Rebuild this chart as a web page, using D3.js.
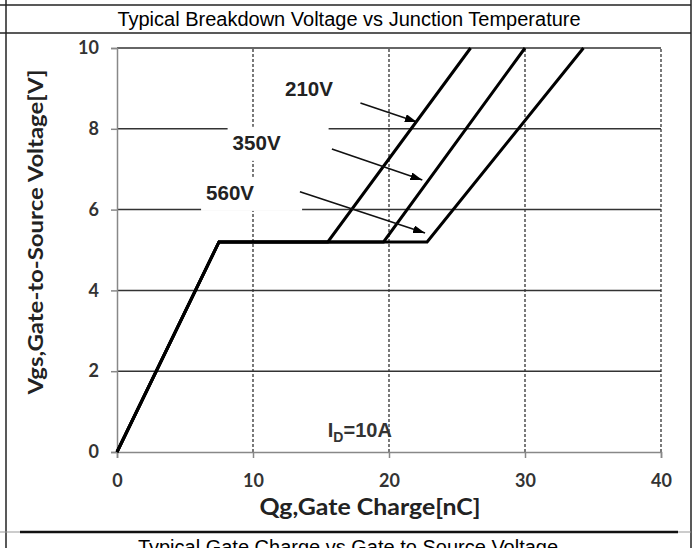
<!DOCTYPE html>
<html>
<head>
<meta charset="utf-8">
<script src="https://cdn.jsdelivr.net/npm/d3@7"></script>
<style>
  body { margin: 0; background: #fff; }
  svg { display: block; }
</style>
</head>
<body>
<script>
// chart values
const xTicks = [0, 10, 20, 30, 40];
const yTicks = [0, 2, 4, 6, 8, 10];
const seriesNames = ["210V", "350V", "560V"];
// every curve: rise to the Miller plateau, plateau, then rise to 10 V
const vgsPoints = [0, 5.2, 5.2, 10];
const qg210 = [0, 7.5, 15.5, 26.0];
const qg350 = [0, 7.5, 19.6, 30.0];
const qg560 = [0, 7.5, 22.8, 34.3];

const width = 696, height = 548;
const margin = {top: 48, right: 35, bottom: 96, left: 117};

const svg = d3.select("body")
  .append("svg")
  .attr("width", width)
  .attr("height", height);

// table frame around the figure
const frame = svg.append("g").attr("stroke", "#222").attr("stroke-width", 1.5);
frame.append("line").attr("x1", 0).attr("x2", 691).attr("y1", 5).attr("y2", 5);
frame.append("line").attr("x1", 0).attr("x2", 691).attr("y1", 33).attr("y2", 33);
frame.append("line").attr("x1", 6).attr("x2", 6).attr("y1", 0).attr("y2", height);
frame.append("line").attr("x1", 691).attr("x2", 691).attr("y1", 0).attr("y2", height);
svg.append("line").attr("x1", 0).attr("x2", 691).attr("y1", 532).attr("y2", 532)
  .attr("stroke", "#999").attr("stroke-width", 1);
svg.append("line").attr("x1", 20).attr("x2", 678).attr("y1", 532).attr("y2", 532)
  .attr("stroke", "#111").attr("stroke-width", 2.5);

svg.append("text")
  .attr("x", 349).attr("y", 26)
  .attr("text-anchor", "middle")
  .style("font-family", "'Liberation Sans', Arial, sans-serif")
  .style("font-size", "20px")
  .text("Typical Breakdown Voltage vs Junction Temperature");

// caption of the next figure, cut by the bottom edge as in the source page
svg.append("text")
  .attr("x", 348).attr("y", 554)
  .attr("text-anchor", "middle")
  .style("font-family", "'Liberation Sans', Arial, sans-serif")
  .style("font-size", "20px")
  .text("Typical Gate Charge vs Gate to Source Voltage");

const x = d3.scaleLinear()
  .domain([0, 40])
  .range([margin.left, width - margin.right]);

const y = d3.scaleLinear()
  .domain([0, 10])
  .range([height - margin.bottom, margin.top]);

// horizontal grid (solid) and vertical grid (dashed)
svg.append("g")
  .selectAll("line")
  .data(yTicks.filter(d => d > 0))
  .enter()
  .append("line")
  .attr("x1", x(0)).attr("x2", x(40))
  .attr("y1", d => y(d)).attr("y2", d => y(d))
  .attr("stroke", "#333")
  .attr("stroke-width", 1.5);

svg.append("g")
  .selectAll("line")
  .data(xTicks.filter(d => d > 0))
  .enter()
  .append("line")
  .attr("x1", d => x(d)).attr("x2", d => x(d))
  .attr("y1", y(0)).attr("y2", y(10))
  .attr("stroke", "#333")
  .attr("stroke-width", 1.3)
  .attr("stroke-dasharray", "3,2");

// axes
const fontTick = "Lato, 'Open Sans', sans-serif";
const yAxis = svg.append("g")
  .attr("transform", `translate(${x(0)},0)`)
  .call(d3.axisLeft(y).tickValues(yTicks).tickSize(6).tickPadding(12).tickFormat(d3.format("d")));
const xAxis = svg.append("g")
  .attr("transform", `translate(0,${y(0)})`)
  .call(d3.axisBottom(x).tickValues(xTicks).tickSize(6).tickPadding(16).tickFormat(d3.format("d")));

[xAxis, yAxis].forEach(ax => {
  ax.select(".domain").attr("stroke", "#888").attr("stroke-width", 1.5);
  ax.selectAll(".tick line").attr("stroke", "#888").attr("stroke-width", 1.5);
  ax.selectAll("text")
    .style("font-family", fontTick)
    .style("font-weight", "bold")
    .style("font-size", "18px")
    .attr("fill", "#333");
});

// axis titles
svg.append("text")
  .attr("x", 370).attr("y", 515)
  .attr("text-anchor", "middle")
  .attr("textLength", 221)
  .attr("lengthAdjust", "spacingAndGlyphs")
  .style("font-family", fontTick)
  .style("font-weight", "bold")
  .style("font-size", "22px")
  .attr("fill", "#222")
  .text("Qg,Gate Charge[nC]");

svg.append("text")
  .attr("transform", "translate(43,232) rotate(-90)")
  .attr("text-anchor", "middle")
  .attr("textLength", 325)
  .attr("lengthAdjust", "spacingAndGlyphs")
  .style("font-family", fontTick)
  .style("font-weight", "bold")
  .style("font-size", "21px")
  .attr("fill", "#222")
  .text("Vgs,Gate-to-Source Voltage[V]");

// white boxes behind the series labels (they break the grid lines)
const labelQg = [12.35, 8.5, 6.55];
const labelVgs = [8.8, 7.48, 6.24];
svg.append("g")
  .selectAll("rect")
  .data(seriesNames)
  .enter()
  .append("rect")
  .attr("x", (d, i) => x(labelQg[i]) - 5)
  .attr("y", (d, i) => y(labelVgs[i]) - 23)
  .attr("width", 101)
  .attr("height", 34)
  .attr("fill", "#fff");

// curves
const line = d3.line()
  .x(d => x(d[0]))
  .y(d => y(d[1]));

const curves = [qg210, qg350, qg560].map(q => q.map((v, i) => [v, vgsPoints[i]]));

svg.append("g")
  .selectAll("path")
  .data(curves)
  .enter()
  .append("path")
  .attr("d", line)
  .attr("fill", "none")
  .attr("stroke", "#000")
  .attr("stroke-width", 3)
  .attr("stroke-linejoin", "miter");

// series labels
svg.append("g")
  .selectAll("text")
  .data(seriesNames)
  .enter()
  .append("text")
  .attr("x", (d, i) => x(labelQg[i]))
  .attr("y", (d, i) => y(labelVgs[i]))
  .attr("textLength", 48)
  .attr("lengthAdjust", "spacingAndGlyphs")
  .style("font-family", "'Liberation Sans', Arial, sans-serif")
  .style("font-weight", "bold")
  .style("font-size", "20px")
  .attr("fill", "#222")
  .text(d => d);

// arrows pointing at the curves
svg.append("defs").append("marker")
  .attr("id", "head")
  .attr("viewBox", "0 0 12 8")
  .attr("refX", 12).attr("refY", 4)
  .attr("markerWidth", 12).attr("markerHeight", 8)
  .attr("markerUnits", "userSpaceOnUse")
  .attr("orient", "auto")
  .append("path")
  .attr("d", "M0,0 L12,4 L0,8 Z")
  .attr("fill", "#000");

const arrowFrom = [[17.9, 8.64], [15.8, 7.5], [13.45, 6.44]];
const arrowTo = [[22.05, 8.17], [22.45, 6.73], [22.65, 5.42]];
svg.append("g")
  .selectAll("line")
  .data(seriesNames)
  .enter()
  .append("line")
  .attr("x1", (d, i) => x(arrowFrom[i][0]))
  .attr("y1", (d, i) => y(arrowFrom[i][1]))
  .attr("x2", (d, i) => x(arrowTo[i][0]))
  .attr("y2", (d, i) => y(arrowTo[i][1]))
  .attr("stroke", "#111")
  .attr("stroke-width", 1.6)
  .attr("marker-end", "url(#head)");

// drain current note
const note = svg.append("text")
  .attr("x", x(15.5)).attr("y", y(0.37))
  .style("font-family", "'Liberation Sans', Arial, sans-serif")
  .style("font-weight", "bold")
  .style("font-size", "20px")
  .attr("fill", "#333");
note.append("tspan").text("I");
note.append("tspan").attr("dy", 5).style("font-size", "14px").text("D");
note.append("tspan").attr("dy", -5).text("=10A");
</script>
</body>
</html>
